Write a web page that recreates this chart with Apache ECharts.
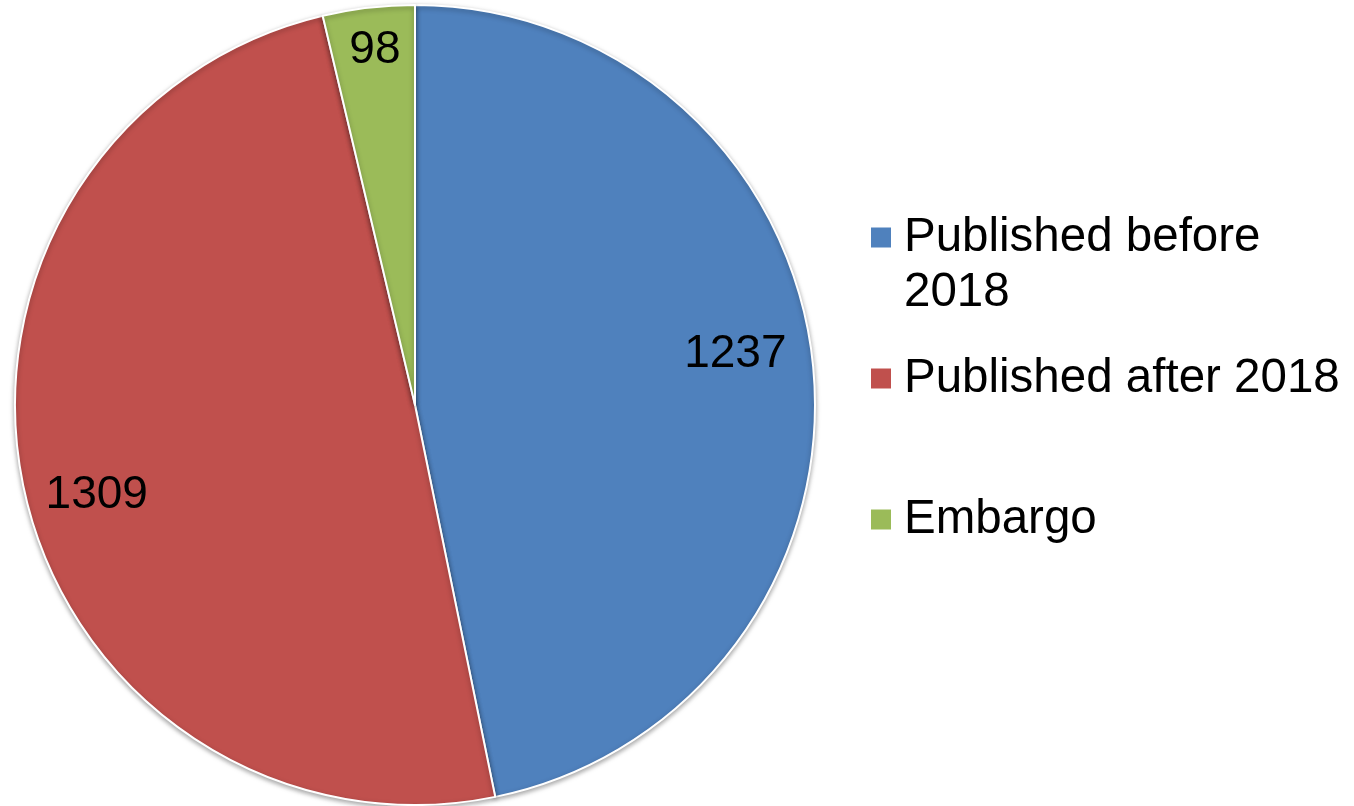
<!DOCTYPE html>
<html>
<head>
<meta charset="utf-8">
<script src="https://cdn.jsdelivr.net/npm/echarts@6/dist/echarts.min.js"></script>
<style>
  html, body { margin: 0; padding: 0; background: #fff; }
  #chart { width: 1354px; height: 806px; }
</style>
</head>
<body>
<div id="chart"></div>
<script>
const categories = ['Published before 2018', 'Published after 2018', 'Embargo']
const counts = [1237, 1309, 98]
const colors = ['#4F81BD', '#C0504D', '#9BBB59']
// small nudges so the value labels sit where Excel put them
const labelNudge = [[-6, -18], [2, 20], [-2, -29]]

const font = 'Arial, "Liberation Sans", sans-serif'

const chart = echarts.init(document.getElementById('chart'))

const option = {
  animation: false,
  legend: {
    orient: 'vertical',
    left: 869,
    top: 155,
    padding: 0,
    itemGap: 31,
    itemWidth: 22,
    itemHeight: 22,
    icon: 'rect',
    textStyle: {
      fontFamily: font,
      fontSize: 47.5,
      color: '#000',
      lineHeight: 55,
      padding: [0, 0, 0, 7]
    },
    formatter: function (name) {
      // first item wraps in two lines, icon sits on the first one
      if (name === categories[0]) return ' \nPublished before\n2018'
      return name
    },
    data: categories.map((c, i) => ({
      name: c,
      textStyle: { lineHeight: i === 2 ? 165 : 55 }
    }))
  },
  series: [
    {
      type: 'pie',
      center: [415, 405],
      radius: [0, 400],
      startAngle: 90,
      clockwise: true,
      label: { show: false },
      labelLine: { show: false },
      itemStyle: {
        borderColor: '#fff',
        borderWidth: 2,
        shadowBlur: 5,
        shadowColor: 'rgba(0,0,0,0.35)',
        shadowOffsetY: 2
      },
      emphasis: { disabled: true },
      data: categories.map((c, i) => ({
        name: c,
        value: counts[i],
        itemStyle: { color: colors[i] }
      }))
    },
    {
      // transparent ring only used to put the labels near the rim
      type: 'pie',
      center: [415, 405],
      radius: [250, 400],
      startAngle: 90,
      clockwise: true,
      silent: true,
      itemStyle: { color: 'rgba(0,0,0,0)', borderWidth: 0 },
      label: {
        show: true,
        position: 'inside',
        formatter: '{c}',
        fontFamily: font,
        fontSize: 46,
        color: '#000'
      },
      labelLine: { show: false },
      emphasis: { disabled: true },
      data: categories.map((c, i) => ({
        name: c,
        value: counts[i],
        label: { offset: labelNudge[i] }
      }))
    }
  ]
}

chart.setOption(option)
</script>
</body>
</html>
